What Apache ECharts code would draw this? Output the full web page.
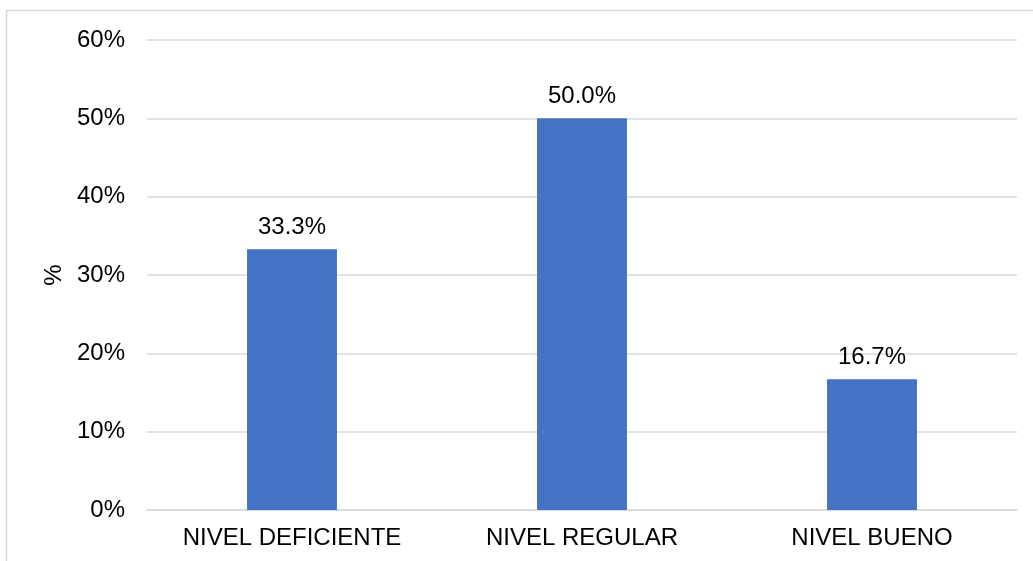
<!DOCTYPE html>
<html>
<head>
<meta charset="utf-8">
<script src="https://cdn.jsdelivr.net/npm/echarts@6/dist/echarts.min.js"></script>
<style>
  html, body { margin: 0; padding: 0; background: #ffffff; }
  #chart { width: 1033px; height: 561px; }
</style>
</head>
<body>
<div id="chart"></div>
<script>
// Categories and percentage values for each level
const categories = ['NIVEL DEFICIENTE', 'NIVEL REGULAR', 'NIVEL BUENO'];
const percentages = [33.3, 50.0, 16.7];
const yTicks = { min: 0, max: 60, interval: 10 };

const FONT = '"Liberation Sans", Arial, sans-serif';
const chart = echarts.init(document.getElementById('chart'), null, { renderer: 'canvas' });

chart.setOption({
  animation: false,
  backgroundColor: '#ffffff',
  graphic: [{
    type: 'rect',
    silent: true,
    z: -10,
    shape: { x: 6.5, y: 10.5, width: 1200, height: 700 },
    style: { fill: 'none', stroke: '#d9d9d9', lineWidth: 1.5 }
  }],
  grid: { left: 147, right: 16, top: 40, bottom: 51 },
  xAxis: {
    type: 'category',
    data: categories,
    axisLine: { show: true, lineStyle: { color: '#d9d9d9', width: 1.5 } },
    axisTick: { show: false },
    axisLabel: { color: '#000000', fontFamily: FONT, fontSize: 24, margin: 16 }
  },
  yAxis: {
    type: 'value',
    min: yTicks.min,
    max: yTicks.max,
    interval: yTicks.interval,
    name: '%',
    nameLocation: 'middle',
    nameGap: 80,
    nameTextStyle: { color: '#000000', fontFamily: FONT, fontSize: 24 },
    axisLine: { show: false },
    axisTick: { show: false },
    splitLine: { lineStyle: { color: '#d9d9d9', width: 1.5 } },
    axisLabel: {
      color: '#000000', fontFamily: FONT, fontSize: 24, margin: 22,
      formatter: '{value}%'
    }
  },
  series: [{
    type: 'bar',
    data: percentages,
    barWidth: '31%',
    itemStyle: { color: '#4472C4' },
    label: {
      show: true,
      position: 'top',
      distance: 10,
      color: '#000000',
      fontFamily: FONT,
      fontSize: 24,
      formatter: p => p.value.toFixed(1) + '%'
    }
  }]
});
</script>
</body>
</html>
